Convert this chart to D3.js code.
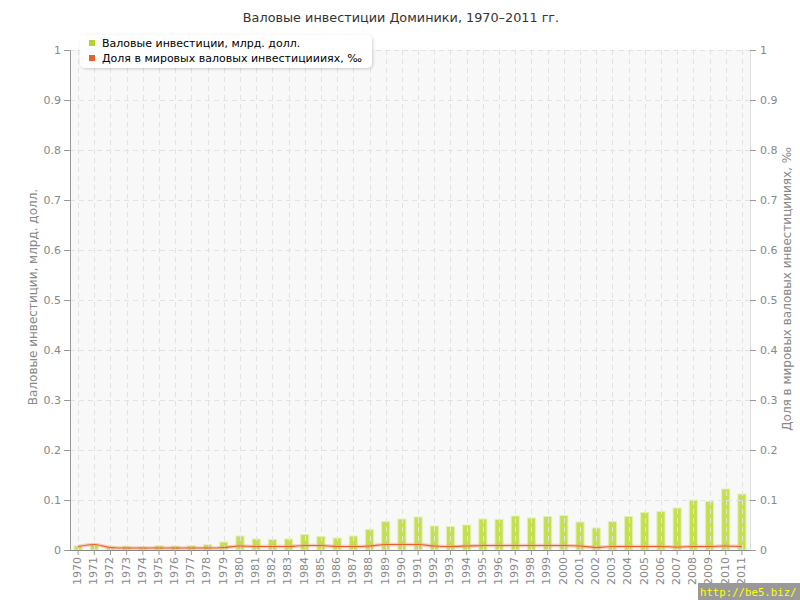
<!DOCTYPE html>
<html><head><meta charset="utf-8">
<script src="https://cdn.jsdelivr.net/npm/d3@7/dist/d3.min.js"></script>
<style>body{margin:0;background:#fff;}svg{display:block;font-family:"DejaVu Sans",Verdana,sans-serif;}</style>
</head><body>
<script>
const years = d3.range(1970, 2012).map(String);
const investments = [0.007,0.011,0.006,0.0067,0.005,0.008,0.007,0.008,0.010,0.015,
0.027,0.021,0.020,0.021,0.030,0.026,0.023,0.027,0.040,0.056,0.061,0.065,
0.047,0.046,0.049,0.061,0.060,0.067,0.063,0.066,0.068,0.055,0.043,0.056,
0.066,0.074,0.076,0.083,0.099,0.096,0.121,0.111];
const worldShare = [0.007,0.011,0.005,0.004,0.004,0.004,0.004,0.004,0.004,0.005,
0.008,0.007,0.007,0.007,0.009,0.009,0.007,0.007,0.008,0.011,0.011,0.011,
0.008,0.007,0.008,0.009,0.009,0.009,0.009,0.009,0.009,0.008,0.005,0.007,
0.007,0.007,0.007,0.006,0.007,0.007,0.008,0.007];
const yTicks = [0,0.1,0.2,0.3,0.4,0.5,0.6,0.7,0.8,0.9,1];
const title = "Валовые инвестиции Доминики, 1970–2011 гг.";
const seriesNames = ["Валовые инвестиции, млрд. долл.", "Доля в мировых валовых инвестициииях, ‰"];
const leftTitle = "Валовые инвестиции, млрд. долл.";
const rightTitle = "Доля в мировых валовых инвестициииях, ‰";

const W = 800, H = 600;
const L = 70, R = 750, T = 50, B = 550;
const svg = d3.select("body").append("svg").attr("width", W).attr("height", H);
const defs = svg.append("defs");
const f = defs.append("filter").attr("id","sh").attr("x","-10%").attr("y","-30%").attr("width","120%").attr("height","160%");
f.append("feDropShadow").attr("dx",1).attr("dy",1).attr("stdDeviation",1.5).attr("flood-color","#000").attr("flood-opacity",0.18);

const x = d3.scaleBand().domain(years).range([L, R]).paddingInner(0.56).paddingOuter(0.28);
const xc = d => x(d) + x.bandwidth()/2;
const yL = d3.scaleLinear().domain([0,1]).range([B, T]);
const yR = d3.scaleLinear().domain([0,1]).range([B, T]);

svg.append("rect").attr("x", L).attr("y", T).attr("width", R-L).attr("height", B-T).attr("fill", "#f8f8f8");

svg.append("text").attr("x", 401).attr("y", 22).attr("text-anchor","middle")
  .attr("font-size", 12.8).attr("fill", "#333").text(title);

// bars
svg.append("g").selectAll("rect").data(investments).join("rect")
  .attr("x", (d,i) => x(years[i]) - 0.5).attr("width", x.bandwidth() + 1)
  .attr("y", d => yL(d) - 0.5).attr("height", d => B - yL(d) + 0.5)
  .attr("fill", "#c4df50").attr("stroke", "#e4f1b0").attr("stroke-width", 1);

// grid on top
const grid = svg.append("g").attr("stroke", "#e2e2e2").attr("stroke-dasharray", "5,4").attr("stroke-width", 1);
grid.selectAll("line.h").data(yTicks.slice(1)).join("line").attr("class","h")
  .attr("x1", L).attr("x2", R).attr("y1", d => Math.round(yL(d))+0.5).attr("y2", d => Math.round(yL(d))+0.5);
grid.selectAll("line.v").data(years).join("line").attr("class","v")
  .attr("x1", d => Math.round(xc(d))+0.5).attr("x2", d => Math.round(xc(d))+0.5).attr("y1", T).attr("y2", B);

// line
const lineGen = d3.line().x((d,i) => xc(years[i])).y(d => yR(d)).curve(d3.curveMonotoneX);
svg.append("path").datum(worldShare).attr("d", lineGen).attr("fill","none")
  .attr("stroke", "#f3a48a").attr("stroke-width", 3.5).attr("stroke-opacity", 0.5);
svg.append("path").datum(worldShare).attr("d", lineGen).attr("fill","none")
  .attr("stroke", "#e8602c").attr("stroke-width", 1.2);

// axes
const axL = d3.axisLeft(yL).tickValues(yTicks).tickSize(6).tickPadding(3).tickFormat(d3.format("~g"));
const gL = svg.append("g").attr("transform", `translate(${L},0)`).call(axL);
gL.select(".domain").attr("stroke", "#999");
gL.selectAll(".tick line").attr("stroke", "#999");
gL.selectAll("text").attr("fill", "#888").attr("font-size", 11).attr("font-family", "DejaVu Sans");

const axR = d3.axisRight(yR).tickValues(yTicks).tickSize(6).tickPadding(4).tickFormat(d3.format("~g"));
const gR = svg.append("g").attr("transform", `translate(${R},0)`).call(axR);
gR.select(".domain").attr("stroke", "#ddd");
gR.selectAll(".tick line").attr("stroke", "#999");
gR.selectAll("text").attr("fill", "#888").attr("font-size", 11).attr("font-family", "DejaVu Sans");

const axB = d3.axisBottom(x).tickSize(5).tickPadding(3);
const gB = svg.append("g").attr("transform", `translate(0,${B})`).call(axB);
gB.select(".domain").attr("stroke", "#888").attr("d", `M${L},0.5H${R}`);
gB.selectAll(".tick line").attr("stroke", "#999");
gB.selectAll("text").attr("fill", "#888").attr("font-size", 11).attr("font-family", "DejaVu Sans")
  .attr("text-anchor", "end").attr("dy", "0.35em").attr("transform", "translate(-1,1) rotate(-90)").attr("x", -6).attr("y", 0);

// axis titles
svg.append("text").attr("transform", `translate(37,297) rotate(-90)`).attr("text-anchor","middle")
  .attr("font-size", 12).attr("fill", "#888").text(leftTitle);
svg.append("text").attr("transform", `translate(791,289) rotate(-90)`).attr("text-anchor","middle")
  .attr("font-size", 12).attr("fill", "#888").text(rightTitle);

// legend
const lg = svg.append("g");
lg.append("rect").attr("x", 80).attr("y", 35).attr("width", 292).attr("height", 33).attr("rx", 5)
  .attr("fill", "#fff").attr("filter", "url(#sh)");
const colors = ["#b5d334", "#e8602c"];
seriesNames.forEach((n,i) => {
  lg.append("rect").attr("x", 89).attr("y", 40 + i*15).attr("width", 6).attr("height", 6).attr("fill", colors[i]);
  lg.append("text").attr("x", 102).attr("y", 47 + i*15).attr("font-size", 11).attr("fill", "#000").text(n);
});

// watermark
svg.append("rect").attr("x", 698).attr("y", 583).attr("width", 102).attr("height", 17).attr("fill", "#999");
svg.append("text").attr("x", 700).attr("y", 596).attr("font-size", 10.7).attr("fill", "#ffff00")
  .attr("font-family", "DejaVu Sans Mono, monospace").text("http://be5.biz/");
</script>
</body></html>
